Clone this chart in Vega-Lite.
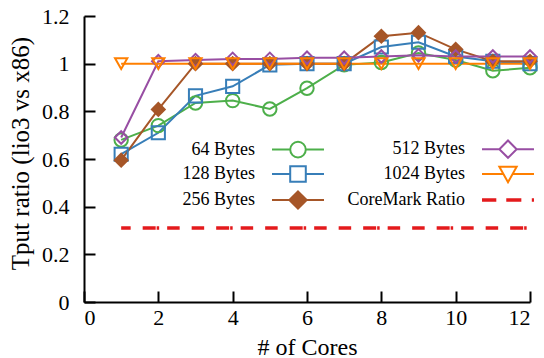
{
  "$schema": "https://vega.github.io/schema/vega-lite/v6.json",
  "width": 446,
  "height": 286,
  "autosize": {"type": "none"},
  "padding": {"left": 84, "top": 16, "right": 14, "bottom": 56},
  "background": "white",
  "config": {
    "view": {"stroke": null},
    "axis": {
      "grid": false,
      "domainColor": "black",
      "domainWidth": 2,
      "tickColor": "black",
      "tickWidth": 2,
      "tickSize": -11,
      "labelFontSize": 22,
      "labelColor": "black",
      "titleFontWeight": "normal",
      "titleColor": "black"
    }
  },
  "datasets": {
    "tput": [
      {"cores": 1, "ratio": 0.68, "series": "64 Bytes"},
      {"cores": 2, "ratio": 0.74, "series": "64 Bytes"},
      {"cores": 3, "ratio": 0.835, "series": "64 Bytes"},
      {"cores": 4, "ratio": 0.845, "series": "64 Bytes"},
      {"cores": 5, "ratio": 0.81, "series": "64 Bytes"},
      {"cores": 6, "ratio": 0.897, "series": "64 Bytes"},
      {"cores": 7, "ratio": 0.995, "series": "64 Bytes"},
      {"cores": 8, "ratio": 1.005, "series": "64 Bytes"},
      {"cores": 9, "ratio": 1.045, "series": "64 Bytes"},
      {"cores": 10, "ratio": 1.015, "series": "64 Bytes"},
      {"cores": 11, "ratio": 0.97, "series": "64 Bytes"},
      {"cores": 12, "ratio": 0.983, "series": "64 Bytes"},
      {"cores": 1, "ratio": 0.62, "series": "128 Bytes"},
      {"cores": 2, "ratio": 0.71, "series": "128 Bytes"},
      {"cores": 3, "ratio": 0.865, "series": "128 Bytes"},
      {"cores": 4, "ratio": 0.905, "series": "128 Bytes"},
      {"cores": 5, "ratio": 0.995, "series": "128 Bytes"},
      {"cores": 6, "ratio": 1.0, "series": "128 Bytes"},
      {"cores": 7, "ratio": 1.0, "series": "128 Bytes"},
      {"cores": 8, "ratio": 1.07, "series": "128 Bytes"},
      {"cores": 9, "ratio": 1.09, "series": "128 Bytes"},
      {"cores": 10, "ratio": 1.03, "series": "128 Bytes"},
      {"cores": 11, "ratio": 1.01, "series": "128 Bytes"},
      {"cores": 12, "ratio": 1.0, "series": "128 Bytes"},
      {"cores": 1, "ratio": 0.595, "series": "256 Bytes"},
      {"cores": 2, "ratio": 0.808, "series": "256 Bytes"},
      {"cores": 3, "ratio": 1.0, "series": "256 Bytes"},
      {"cores": 4, "ratio": 1.0, "series": "256 Bytes"},
      {"cores": 5, "ratio": 1.0, "series": "256 Bytes"},
      {"cores": 6, "ratio": 1.0, "series": "256 Bytes"},
      {"cores": 7, "ratio": 1.0, "series": "256 Bytes"},
      {"cores": 8, "ratio": 1.115, "series": "256 Bytes"},
      {"cores": 9, "ratio": 1.13, "series": "256 Bytes"},
      {"cores": 10, "ratio": 1.06, "series": "256 Bytes"},
      {"cores": 11, "ratio": 1.01, "series": "256 Bytes"},
      {"cores": 12, "ratio": 1.01, "series": "256 Bytes"},
      {"cores": 1, "ratio": 0.69, "series": "512 Bytes"},
      {"cores": 2, "ratio": 1.01, "series": "512 Bytes"},
      {"cores": 3, "ratio": 1.015, "series": "512 Bytes"},
      {"cores": 4, "ratio": 1.02, "series": "512 Bytes"},
      {"cores": 5, "ratio": 1.02, "series": "512 Bytes"},
      {"cores": 6, "ratio": 1.025, "series": "512 Bytes"},
      {"cores": 7, "ratio": 1.025, "series": "512 Bytes"},
      {"cores": 8, "ratio": 1.03, "series": "512 Bytes"},
      {"cores": 9, "ratio": 1.035, "series": "512 Bytes"},
      {"cores": 10, "ratio": 1.03, "series": "512 Bytes"},
      {"cores": 11, "ratio": 1.03, "series": "512 Bytes"},
      {"cores": 12, "ratio": 1.03, "series": "512 Bytes"},
      {"cores": 1, "ratio": 1.0, "series": "1024 Bytes"},
      {"cores": 2, "ratio": 1.0, "series": "1024 Bytes"},
      {"cores": 3, "ratio": 1.0, "series": "1024 Bytes"},
      {"cores": 4, "ratio": 1.0, "series": "1024 Bytes"},
      {"cores": 5, "ratio": 1.0, "series": "1024 Bytes"},
      {"cores": 6, "ratio": 1.0, "series": "1024 Bytes"},
      {"cores": 7, "ratio": 1.0, "series": "1024 Bytes"},
      {"cores": 8, "ratio": 1.0, "series": "1024 Bytes"},
      {"cores": 9, "ratio": 1.0, "series": "1024 Bytes"},
      {"cores": 10, "ratio": 1.0, "series": "1024 Bytes"},
      {"cores": 11, "ratio": 1.0, "series": "1024 Bytes"},
      {"cores": 12, "ratio": 1.0, "series": "1024 Bytes"}
    ],
    "coremark": [
      {"cores": 1, "ratio": 0.31, "series": "CoreMark Ratio"},
      {"cores": 12, "ratio": 0.31, "series": "CoreMark Ratio"}
    ]
  },
  "encoding": {
    "x": {
      "field": "cores", "type": "quantitative",
      "scale": {"domain": [0, 12], "nice": false, "zero": false},
      "axis": {"values": [0, 2, 4, 6, 8, 10, 12], "title": "# of Cores", "labelFont": "Liberation Serif", "titleFont": "Liberation Serif", "titleFontSize": 24, "labelPadding": 16, "titleBaseline": "alphabetic", "titleY": 52}
    },
    "y": {
      "field": "ratio", "type": "quantitative",
      "scale": {"domain": [0, 1.2], "nice": false},
      "axis": {"values": [0, 0.2, 0.4, 0.6, 0.8, 1, 1.2], "format": "~g", "title": "Tput ratio (lio3 vs x86)", "labelFont": "Liberation Serif", "titleFont": "Liberation Serif", "titleFontSize": 25, "titleBaseline": "alphabetic", "titleX": -56, "titleY": 137, "labelPadding": 26}
    },
    "color": {
      "field": "series", "type": "nominal",
      "scale": {
        "domain": ["64 Bytes", "128 Bytes", "256 Bytes", "512 Bytes", "1024 Bytes", "CoreMark Ratio"],
        "range": ["#4daf4a", "#377eb8", "#a65628", "#984ea3", "#ff7f00", "#e41a1c"]
      },
      "legend": {
        "title": null,
        "orient": "none",
        "legendX": 205,
        "legendY": 124,
        "columns": 2,
        "columnPadding": 17,
        "rowPadding": 0,
        "padding": 0,
        "symbolSize": 300,
        "labelFont": "Liberation Serif",
        "labelFontSize": 18,
        "labelColor": "black",
        "labelAlign": "right",
        "labelOffset": -52,
        "labelLimit": 300,
        "encode": {
          "symbols": {
            "update": {
              "shape": {"signal": "datum.value === '64 Bytes' ? 'M-18,0M-3,0H-0.9M0.9,0H3M-0.9,0A0.9,0.9 0 1 0 0.9,0A0.9,0.9 0 1 0 -0.9,0Z' : datum.value === '128 Bytes' ? 'M-18,0M-3,0H-0.9M0.9,0H3M-0.9,-0.9H0.9V0.9H-0.9Z' : datum.value === '256 Bytes' ? 'M-18,0M-3,0H-1M1,0H3M0,-1L1,0L0,1L-1,0Z' : datum.value === '512 Bytes' ? 'M-18,0M-3,0H-1M1,0H3M0,-1L1,0L0,1L-1,0Z' : datum.value === '1024 Bytes' ? 'M-18,0M-3,0H-0.53M0.53,0H3M-1,-0.85H1L0,0.95Z' : 'M-18,0M-3,0H-1.35M-0.2,0H1.54M2.75,0H3'"},
              "fill": {"signal": "datum.value === '256 Bytes' ? '#a65628' : 'transparent'"},
              "strokeWidth": {"signal": "datum.value === 'CoreMark Ratio' ? 3.5 : 2"},
              "opacity": {"value": 1}
            }
          }
        }
      }
    }
  },
  "layer": [
    {
      "data": {"name": "tput"},
      "mark": {"type": "line", "strokeWidth": 2},
      "encoding": {"detail": {"field": "series"}}
    },
    {
      "data": {"name": "tput"},
      "mark": {"type": "point", "filled": false, "strokeWidth": 2, "opacity": 1},
      "encoding": {
        "shape": {
          "field": "series", "type": "nominal",
          "scale": {"domain": ["64 Bytes", "128 Bytes", "256 Bytes", "512 Bytes", "1024 Bytes"], "range": ["circle", "square", "diamond", "diamond", "triangle-down"]},
          "legend": null
        },
        "size": {
          "field": "series", "type": "nominal",
          "scale": {"domain": ["64 Bytes", "128 Bytes", "256 Bytes", "512 Bytes", "1024 Bytes"], "range": [180, 150, 310, 180, 230]},
          "legend": null
        },
        "fill": {
          "condition": {"test": "datum.series === '256 Bytes'", "value": "#a65628"},
          "value": "transparent"
        }
      }
    },
    {
      "data": {"name": "coremark"},
      "mark": {"type": "line", "strokeWidth": 3.5, "strokeDash": [13, 1, 2.5, 8, 12.5, 12, 12.5, 12], "strokeDashOffset": 52}
    }
  ]
}
